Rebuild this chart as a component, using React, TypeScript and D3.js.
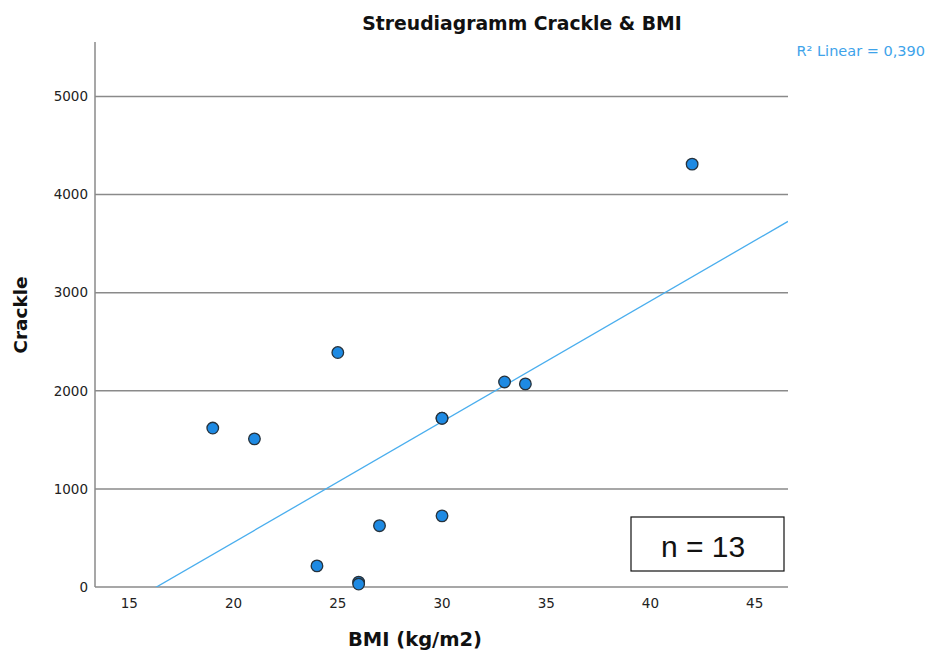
import React from "react";
import * as d3 from "d3";

// BMI and crackle count per subject
const bmi = [19, 21, 24, 25, 26, 26, 27, 30, 30, 30, 33, 34, 42];
const crackle = [1620, 1510, 215, 2390, 50, 30, 625, 1720, 1720, 725, 2090, 2070, 4310];
const xTicks = [15, 20, 25, 30, 35, 40, 45];
const yTicks = [0, 1000, 2000, 3000, 4000, 5000];
const xDomain = [13.35, 46.6];
const yDomain = [0, 5555];
const r2Label = "R² Linear = 0,390";
const nLabel = "n = 13";

const W = 928;
const H = 651;
const left = 95;
const right = 788;
const top = 42;
const bottom = 587;
const font = "'DejaVu Sans', sans-serif";

export default function App() {
  const x = d3.scaleLinear().domain(xDomain).range([left, right]);
  const y = d3.scaleLinear().domain(yDomain).range([bottom, top]);

  // ordinary least squares fit
  const mx = d3.mean(bmi)!;
  const my = d3.mean(crackle)!;
  let sxy = 0, sxx = 0;
  bmi.forEach((v, i) => {
    sxy += (v - mx) * (crackle[i] - my);
    sxx += (v - mx) ** 2;
  });
  const slope = sxy / sxx;
  const intercept = my - slope * mx;
  const fit = d3.line<number>().x((v) => x(v)).y((v) => y(intercept + slope * v));

  return (
    <svg width={W} height={H} style={{ position: "absolute", left: 0, top: 0, background: "#fff" }}>
      <defs>
        <clipPath id="plot">
          <rect x={left} y={top} width={right - left} height={bottom - top} />
        </clipPath>
      </defs>
      <text x={522} y={30} textAnchor="middle" fontFamily={font} fontWeight="bold" fontSize={18.8} fill="#111">
        Streudiagramm Crackle &amp; BMI
      </text>
      {yTicks.filter((t) => t > 0).map((t) => (
        <line key={t} x1={left} x2={right} y1={y(t)} y2={y(t)} stroke="#8a8a8a" strokeWidth={1.5} />
      ))}
      <line x1={left} x2={left} y1={top} y2={bottom} stroke="#8a8a8a" strokeWidth={1.5} />
      <line x1={left} x2={right} y1={bottom} y2={bottom} stroke="#8a8a8a" strokeWidth={1.5} />
      {yTicks.map((t) => (
        <text key={t} x={left - 7} y={y(t)} dy="0.35em" textAnchor="end" fontFamily={font} fontSize={13.5} fill="#222">
          {t}
        </text>
      ))}
      {xTicks.map((t) => (
        <text key={t} x={x(t)} y={bottom + 16} dy="0.35em" textAnchor="middle" fontFamily={font} fontSize={13.5} fill="#222">
          {t}
        </text>
      ))}
      <text x={415} y={646} textAnchor="middle" fontFamily={font} fontWeight="bold" fontSize={19.5} fill="#111">
        BMI (kg/m2)
      </text>
      <text
        transform={`translate(27,${315}) rotate(-90)`}
        textAnchor="middle"
        fontFamily={font}
        fontWeight="bold"
        fontSize={18.5}
        fill="#111"
      >
        Crackle
      </text>
      <path d={fit(xDomain) ?? ""} clipPath="url(#plot)" fill="none" stroke="#4aaeee" strokeWidth={1.3} />
      {bmi.map((v, i) => (
        <circle key={i} cx={x(v)} cy={y(crackle[i])} r={5.8} fill="#1e8ae3" stroke="#26323c" strokeWidth={1.3} />
      ))}
      <text x={925} y={56} textAnchor="end" fontFamily={font} fontSize={14.5} fill="#3ea3ea">
        {r2Label}
      </text>
      <rect x={631} y={517} width={153} height={54} fill="#fff" stroke="#111" strokeWidth={1.2} />
      <text x={703} y={546} dy="0.35em" textAnchor="middle" fontFamily="'Liberation Sans', Arial, sans-serif" fontSize={30} fill="#111">
        {nLabel}
      </text>
    </svg>
  );
}
